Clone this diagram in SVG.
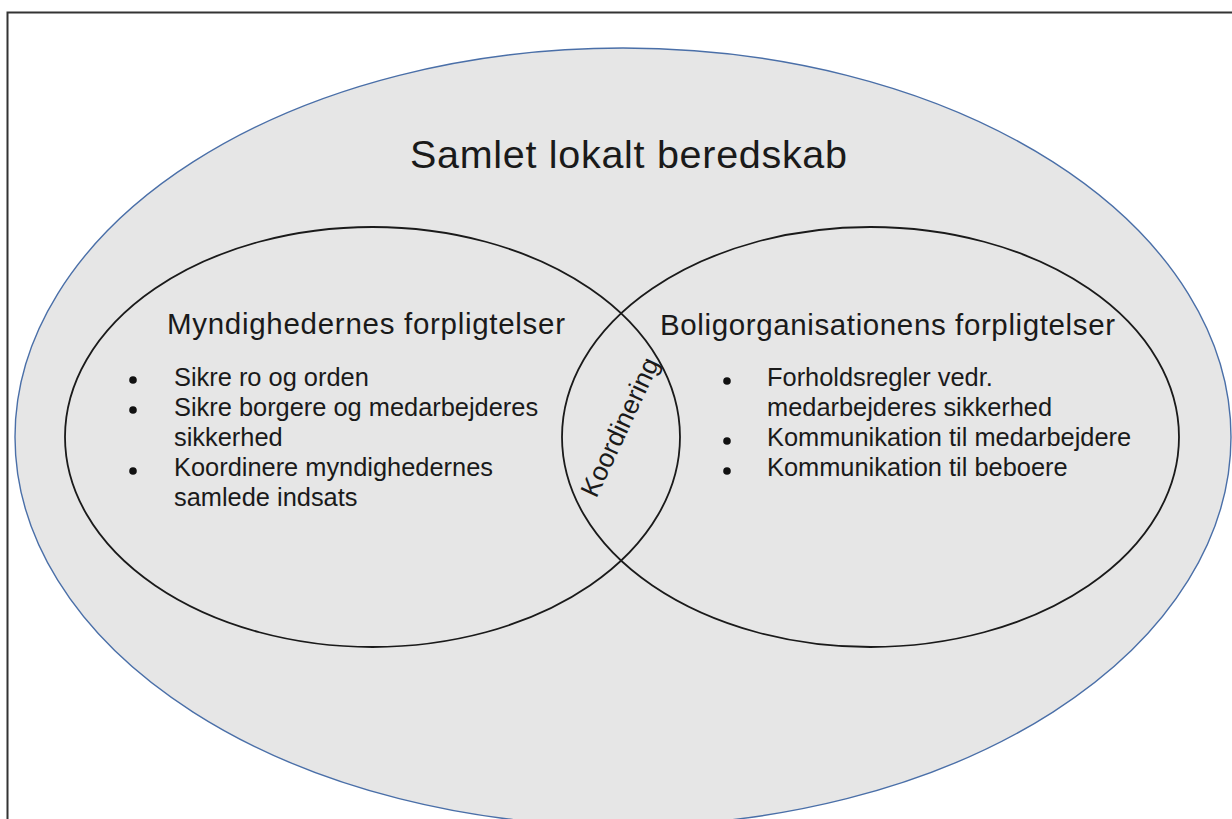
<svg xmlns="http://www.w3.org/2000/svg" width="1232" height="819" viewBox="0 0 1232 819">
<style>
  .txt { font-family: "Liberation Sans", Arial, sans-serif; fill: #1a1a1a; }
  .title { font-size: 39.5px; }
  .head { font-size: 29.5px; }
  .item { font-size: 25.4px; }
  .rot { font-size: 26.5px; }
  .inner { fill: none; stroke: #1a1a1a; stroke-width: 1.8; }
  .dot { fill: #111; }
</style>
<rect width="1232" height="819" fill="#ffffff"/>
<rect x="7.5" y="12.5" width="1240" height="830" fill="none" stroke="#333333" stroke-width="2"/>
<g id="outer">
  <ellipse cx="623" cy="437" rx="608" ry="389" fill="#e6e6e6" stroke="#4a6fa8" stroke-width="1.4"/>
  <text class="txt title" x="410" y="168" textLength="437" lengthAdjust="spacing">Samlet lokalt beredskab</text>
</g>
<g id="left">
  <ellipse class="inner" cx="372.5" cy="437" rx="307.5" ry="210"/>
  <text class="txt head" x="167" y="334" textLength="398" lengthAdjust="spacing">Myndighedernes forpligtelser</text>
  <circle class="dot" cx="133" cy="380" r="3.8"/>
  <circle class="dot" cx="133" cy="410" r="3.8"/>
  <circle class="dot" cx="133" cy="471" r="3.8"/>
  <text class="txt item" x="174" y="386">Sikre ro og orden</text>
  <text class="txt item" x="174" y="416">Sikre borgere og medarbejderes</text>
  <text class="txt item" x="174" y="446">sikkerhed</text>
  <text class="txt item" x="174" y="476">Koordinere myndighedernes</text>
  <text class="txt item" x="174" y="506">samlede indsats</text>
</g>
<g id="right">
  <ellipse class="inner" cx="870.5" cy="437" rx="308.5" ry="210"/>
  <text class="txt head" x="660" y="335" textLength="455" lengthAdjust="spacing">Boligorganisationens forpligtelser</text>
  <circle class="dot" cx="727" cy="381" r="3.8"/>
  <circle class="dot" cx="727" cy="441" r="3.8"/>
  <circle class="dot" cx="727" cy="471" r="3.8"/>
  <text class="txt item" x="767" y="386">Forholdsregler vedr.</text>
  <text class="txt item" x="767" y="416">medarbejderes sikkerhed</text>
  <text class="txt item" x="767" y="446">Kommunikation til medarbejdere</text>
  <text class="txt item" x="767" y="476">Kommunikation til beboere</text>
</g>
<g id="overlap">
  <text class="txt rot" transform="translate(628,431) rotate(-65)" x="0" y="0" text-anchor="middle">Koordinering</text>
</g>
<g id="connectors"></g>
</svg>
